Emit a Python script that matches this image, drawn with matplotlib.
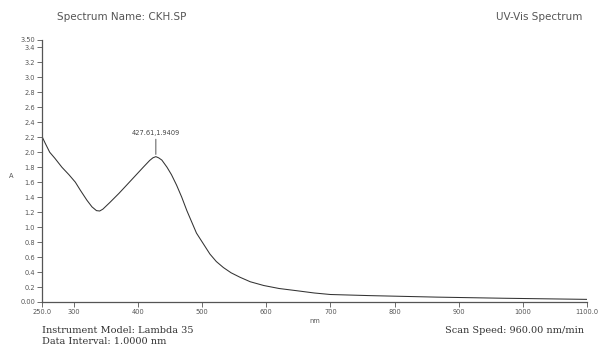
import matplotlib.pyplot as plt

# valores
longitud_onda = [250, 255, 262, 270, 281, 292, 302, 310, 320, 328, 335, 340, 345,
                 356, 370, 382, 395, 408, 418, 423, 427.61, 432, 437, 445, 452,
                 460, 468, 476, 484, 491, 500, 512, 522, 533, 545, 559, 575, 596,
                 620, 648, 675, 700, 762, 866, 970, 1100]
absorbancia = [2.21, 2.12, 2.00, 1.92, 1.80, 1.70, 1.60, 1.49, 1.36, 1.27, 1.22, 1.215, 1.24,
               1.33, 1.45, 1.56, 1.68, 1.80, 1.89, 1.925, 1.9409, 1.925, 1.895, 1.80, 1.70,
               1.56, 1.40, 1.22, 1.06, 0.92, 0.80, 0.64, 0.54, 0.46, 0.39, 0.33, 0.27, 0.22,
               0.18, 0.15, 0.12, 0.10, 0.085, 0.065, 0.05, 0.035]

pico_nm = 427.61
pico_abs = 1.9409

x_ticks = [250, 300, 400, 500, 600, 700, 800, 900, 1000, 1100]
x_labels = ["250.0", "300", "400", "500", "600", "700", "800", "900", "1000", "1100.0"]
y_ticks = [0.0, 0.2, 0.4, 0.6, 0.8, 1.0, 1.2, 1.4, 1.6, 1.8, 2.0, 2.2, 2.4, 2.6,
           2.8, 3.0, 3.2, 3.4, 3.5]
y_labels = ["0.00"] + ["%.1f" % v for v in y_ticks[1:-1]] + ["3.50"]

fig = plt.figure(figsize=(6, 3.53), dpi=100)
ax = fig.add_axes([0.07, 0.1445, 0.908, 0.7425])

ax.plot(longitud_onda, absorbancia, color="#333333", linewidth=0.75)
ax.annotate("%.2f,%.4f" % (pico_nm, pico_abs), xy=(pico_nm, pico_abs + 0.03),
            xytext=(pico_nm, pico_abs + 0.27), ha="center", va="bottom",
            fontsize=4.8, color="#444444",
            arrowprops=dict(arrowstyle="-", color="#555555", linewidth=0.7,
                            shrinkA=0, shrinkB=0))

ax.set_xlim(250, 1100)
ax.set_ylim(0, 3.5)
ax.set_xticks(x_ticks)
ax.set_xticklabels(x_labels)
ax.set_yticks(y_ticks)
ax.set_yticklabels(y_labels)
ax.tick_params(labelsize=4.8, colors="#555555", length=3.5, width=0.6, pad=1.5)
for lado in ["top", "right"]:
    ax.spines[lado].set_visible(False)
for lado in ["left", "bottom"]:
    ax.spines[lado].set_color("#555555")
    ax.spines[lado].set_linewidth(0.9)

ax.set_xlabel("nm", fontsize=4.8, color="#555555", labelpad=2)
fig.text(0.019, 0.502, "A", fontsize=4.8, color="#555555", ha="center", va="center")

fig.text(0.095, 0.953, "Spectrum Name: CKH.SP", fontsize=7.5, color="#555555",
         va="center")
fig.text(0.97, 0.953, "UV-Vis Spectrum", fontsize=7.5, color="#555555",
         va="center", ha="right")
fig.text(0.07, 0.065, "Instrument Model: Lambda 35", fontsize=7, color="#333333",
         family="DejaVu Serif", va="center")
fig.text(0.07, 0.032, "Data Interval: 1.0000 nm", fontsize=7, color="#333333",
         family="DejaVu Serif", va="center")
fig.text(0.973, 0.065, "Scan Speed: 960.00 nm/min", fontsize=7, color="#333333",
         family="DejaVu Serif", va="center", ha="right")

fig.savefig("out.png", dpi=100)
